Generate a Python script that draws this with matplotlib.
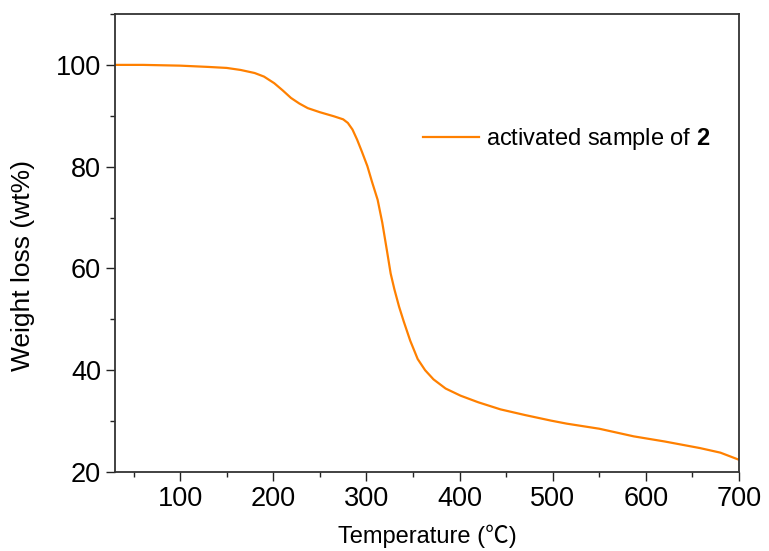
import matplotlib.pyplot as plt
from matplotlib.ticker import MultipleLocator

# values
temperature = [30, 60, 100, 130, 150, 165, 180, 190, 201, 210, 219, 228, 237, 250, 265,
               275, 280, 285, 290, 295, 301, 306, 312, 317, 322, 326, 330, 335, 340,
               347, 355, 363, 372, 385, 401, 420, 444, 470, 498, 515, 550, 587, 620,
               658, 680, 700]
weight = [100.0, 100.0, 99.85, 99.6, 99.4, 99.0, 98.4, 97.7, 96.4, 95.0, 93.5, 92.4,
          91.5, 90.7, 89.9, 89.3, 88.6, 87.3, 85.3, 83.0, 80.1, 77.0, 73.5, 69.0, 63.5,
          59.0, 55.9, 52.5, 49.6, 45.8, 42.2, 40.0, 38.2, 36.4, 35.0, 33.7, 32.3, 31.2,
          30.1, 29.5, 28.5, 27.0, 26.0, 24.7, 23.8, 22.4]
series_label = r"activated sample of $\mathbf{2}$"

plt.rcParams['font.family'] = ['Liberation Sans', 'Noto Sans CJK SC', 'DejaVu Sans']
plt.rcParams['mathtext.fontset'] = 'custom'
plt.rcParams['mathtext.rm'] = 'Liberation Sans'
plt.rcParams['mathtext.bf'] = 'Liberation Sans:bold'

fig = plt.figure(figsize=(7.69, 5.51), dpi=100)
ax = fig.add_axes([0.1495, 0.1434, 0.8115, 0.8312])

ax.plot(temperature, weight, color='#ff8000', lw=1.6, label=series_label)

ax.set_xlim(30, 700)
ax.set_ylim(20, 110)
ax.xaxis.set_major_locator(MultipleLocator(100))
ax.xaxis.set_minor_locator(MultipleLocator(50))
ax.yaxis.set_major_locator(MultipleLocator(20))
ax.yaxis.set_minor_locator(MultipleLocator(10))

ax.tick_params(which='major', direction='out', length=6.5, width=1.0, labelsize=19.5,
               colors='#222222', labelcolor='black')
ax.tick_params(which='minor', direction='out', length=3.6, width=1.0, colors='#222222')
for s in ax.spines.values():
    s.set_linewidth(1.3)
    s.set_color('#333333')

ax.set_xlabel('Temperature (℃)', fontsize=17)
ax.set_ylabel('Weight loss (wt%)', fontsize=19)
ax.xaxis.set_label_coords(0.5, -0.114)
ax.yaxis.set_label_coords(-0.128, 0.45)

ax.legend(loc='center left', bbox_to_anchor=(0.494, 0.727), frameon=False,
          fontsize=17, handlelength=2.35, handletextpad=0.3, borderpad=0,
          borderaxespad=0)

fig.savefig('out.png', dpi=100)
